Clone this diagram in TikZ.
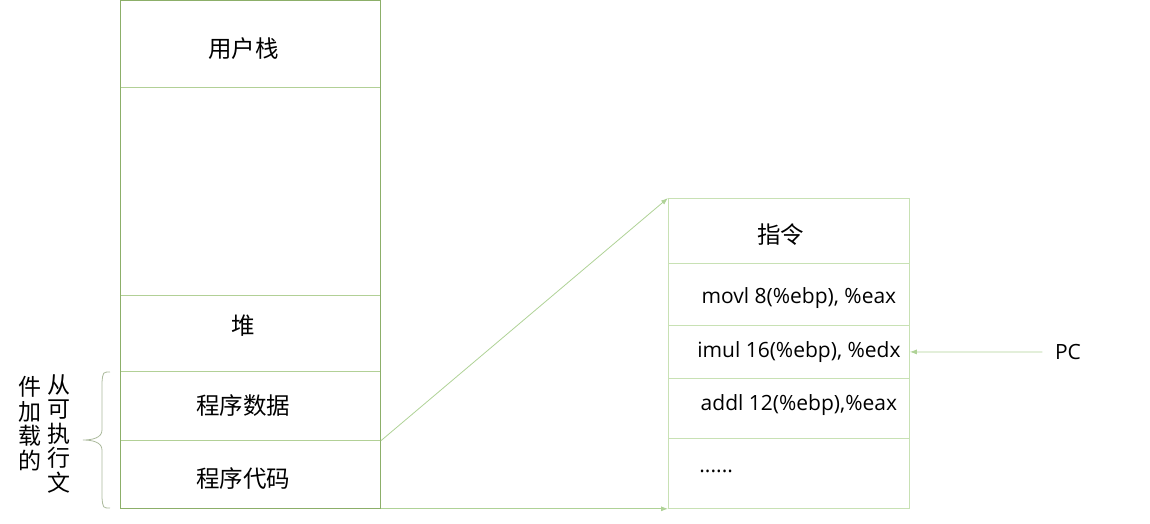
\documentclass[tikz,border=0pt]{standalone}
\usepackage{fontspec}
\setmainfont{Open Sans}
\newfontfamily\cjk{Noto Sans CJK SC}
\usetikzlibrary{arrows.meta,positioning}
\definecolor{frameGreen}{RGB}{140,175,105}
\definecolor{cellGreen}{RGB}{178,208,150}
\definecolor{instrGreen}{RGB}{200,225,180}
\definecolor{arrowGreen}{RGB}{175,210,150}
\definecolor{braceGray}{RGB}{170,185,155}
\tikzset{
    stackCell/.style={
        ,   draw=cellGreen
        ,   minimum width=260pt
        ,   inner sep=0pt
        ,   anchor=north west
        ,   font=\cjk\fontsize{23.5}{25}\selectfont
        ,   text=black
        ,   execute at begin node=\hspace*{-7pt}
        ,   execute at end node=\hspace*{7pt}
    },
    instrCell/.style={
        ,   draw=instrGreen
        ,   minimum width=241pt
        ,   inner sep=0pt
        ,   anchor=north west
        ,   font=\fontsize{21}{23}\selectfont
        ,   text=black
    },
    instrLine/.style={
        ,   instrCell
        ,   execute at begin node=\hspace*{20pt}
    },
    vText/.style={
        ,   anchor=north
        ,   align=center
        ,   inner sep=0pt
        ,   font=\cjk\fontsize{23}{24.5}\selectfont
    }
}
\begin{document}
\begin{tikzpicture}[->,>={Latex[length=7pt,width=5pt]}
                ,x=1pt,y=-1pt
                ,line width=0.8pt]
    \useasboundingbox (0,0) rectangle (1150,523);
    % stack of the process
    \node[stackCell, minimum height=87pt, text height=30pt] (stack) at (120,0) {用户栈};
    \node[stackCell, minimum height=208pt] (free) at (120,87) {};
    \node[stackCell, minimum height=76pt, text depth=18pt] (heap) at (120,295) {堆};
    \node[stackCell, minimum height=69pt] (data) at (120,371) {程序数据};
    \node[stackCell, minimum height=68pt, text height=28pt] (code) at (120,440) {程序代码};
    \draw[-, frameGreen] (stack.north west) rectangle (code.south east);
    % instructions
    \node[instrCell, execute at begin node=\hspace*{-16pt}, font=\cjk\fontsize{23.5}{25}\selectfont, minimum height=65pt, text height=27pt] (title) at (668,198) {指令};
    \node[instrLine, minimum height=62pt, text height=24pt] (movl) at (668,263) {movl 8(\%ebp), \%eax};
    \node[instrLine, minimum height=53pt] (imul) at (668,325) {imul 16(\%ebp), \%edx};
    \node[instrLine, minimum height=60pt, text depth=12pt] (addl) at (668,378) {addl 12(\%ebp),\%eax};
    \node[instrCell, minimum height=70pt, text width=179pt, inner xsep=31pt, align=left, text depth=4pt] (more) at (668,438) {......};
    \node[font=\fontsize{21}{23}\selectfont] (pc) at (1068,352) {PC};
    \path[arrowGreen] (data.south east) edge (title.north west)
            (code.south east) edge (more.south west)
            (pc.west) edge [shorten <=9pt] (imul.east);
    % loaded part
    \coordinate (tip) at (83,440);
    \draw[-, braceGray] (110,372) .. controls (103,372) .. (102,382) -- (102,430)
            .. controls (102,438) and (92,440) .. (tip)
            .. controls (92,440) and (102,442) .. (102,450) -- (102,498)
            .. controls (103,508) .. (110,508);
    \node[vText] (right) at (59,374) {从\\可\\执\\行\\文};
    \node[vText] (left) at (30,376) {件\\加\\载\\的};
\end{tikzpicture}
\end{document}
